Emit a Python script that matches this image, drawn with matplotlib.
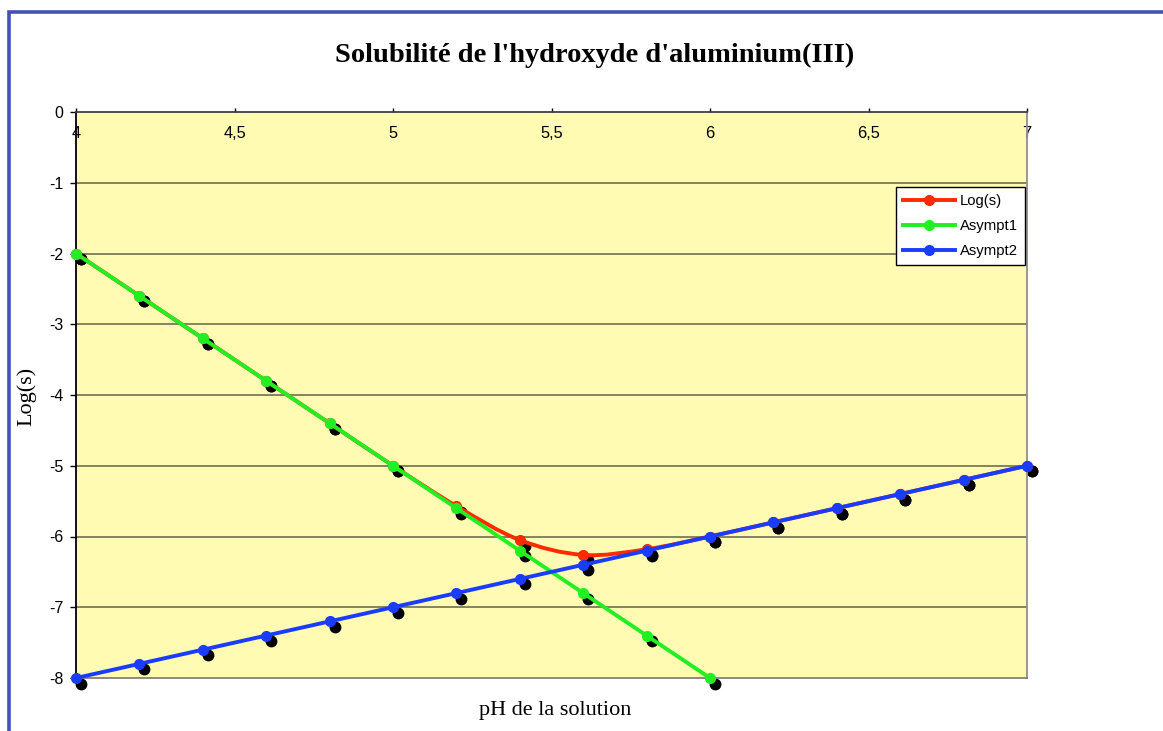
import matplotlib
matplotlib.use("Agg")
import matplotlib.pyplot as plt
import matplotlib.transforms as mtransforms
from matplotlib.path import Path
from matplotlib.patches import PathPatch, Rectangle
import numpy as np

# ---- data ----
ph_log = [4.0, 4.2, 4.4, 4.6, 4.8, 5.0, 5.2, 5.4, 5.6, 5.8, 6.0, 6.2, 6.4, 6.6, 6.8, 7.0]
log_s = [-2.0, -2.6, -3.2, -3.8, -4.4, -5.0, -5.57, -6.05, -6.26, -6.18, -6.0, -5.8, -5.6, -5.4, -5.2, -5.0]

ph_a1 = [4.0, 4.2, 4.4, 4.6, 4.8, 5.0, 5.2, 5.4, 5.6, 5.8, 6.0]
asympt1 = [-2.0, -2.6, -3.2, -3.8, -4.4, -5.0, -5.6, -6.2, -6.8, -7.4, -8.0]

ph_a2 = [4.0, 4.2, 4.4, 4.6, 4.8, 5.0, 5.2, 5.4, 5.6, 5.8, 6.0, 6.2, 6.4, 6.6, 6.8, 7.0]
asympt2 = [-8.0, -7.8, -7.6, -7.4, -7.2, -7.0, -6.8, -6.6, -6.4, -6.2, -6.0, -5.8, -5.6, -5.4, -5.2, -5.0]

x_ticks = [4, 4.5, 5, 5.5, 6, 6.5, 7]
x_ticklabels = ["4", "4,5", "5", "5,5", "6", "6,5", "7"]
y_ticks = [0, -1, -2, -3, -4, -5, -6, -7, -8]

title = "Solubilité de l'hydroxyde d'aluminium(III)"
xlabel = "pH de la solution"
ylabel = "Log(s)"

RED = "#FF2A00"
GREEN = "#22EE22"
BLUE = "#1A3CFF"
BG = "#FFFBB3"

fig = plt.figure(figsize=(11.63, 7.31), dpi=100)
fig.patch.set_facecolor("white")

# outer blue frame (cropped at right / bottom)
fig.add_artist(Rectangle((8.5 / 1163, -0.05), 1.2, 1 - 11.5 / 731 + 0.05,
                         transform=fig.transFigure, fill=False,
                         edgecolor="#4452B8", linewidth=2.6))

ax = fig.add_axes([76 / 1163, 53 / 731, (1027 - 76) / 1163, (678 - 112) / 731])
ax.set_facecolor(BG)
ax.set_xlim(4, 7)
ax.set_ylim(-8, 0)

ax.spines["left"].set_color("black")
ax.spines["top"].set_color("#404040")
ax.spines["right"].set_color("#909090")
ax.spines["bottom"].set_color("#808080")
for s in ax.spines.values():
    s.set_linewidth(1.3)

for yv in y_ticks[1:-1]:
    ax.axhline(yv, color="#7A7A5A", linewidth=1.3, zorder=1)

ax.set_yticks(y_ticks)
ax.set_yticklabels([str(v) for v in y_ticks])
ax.set_xticks(x_ticks)
ax.set_xticklabels(x_ticklabels)
ax.xaxis.set_ticks_position("top")
ax.tick_params(axis="x", direction="out", length=3, width=1, pad=-24,
               labelsize=11.8, colors="black")
ax.tick_params(axis="y", direction="out", length=4, width=1, pad=5,
               labelsize=11.5)
for lbl in ax.get_xticklabels() + ax.get_yticklabels():
    lbl.set_fontfamily("Liberation Sans")
    lbl.set_zorder(6)

# shadows
shadow_tr = ax.transData + mtransforms.ScaledTranslation(5 / 100, -5.5 / 100, fig.dpi_scale_trans)
for xs, ys in [(ph_log, log_s), (ph_a1, asympt1), (ph_a2, asympt2)]:
    ax.plot(xs, ys, linestyle="none", marker="o", markersize=7.5, color="black",
            transform=shadow_tr, zorder=2, clip_on=False)

# smoothed red line (Catmull-Rom style Bezier through the data points)
def smooth_path(xs, ys, t=1 / 6):
    pts = np.column_stack([xs, ys])
    verts = [pts[0]]
    codes = [Path.MOVETO]
    n = len(pts)
    for i in range(n - 1):
        p0 = pts[i - 1] if i > 0 else pts[i]
        p1 = pts[i]
        p2 = pts[i + 1]
        p3 = pts[i + 2] if i + 2 < n else pts[i + 1]
        c1 = p1 + (p2 - p0) * t
        c2 = p2 - (p3 - p1) * t
        verts += [c1, c2, p2]
        codes += [Path.CURVE4] * 3
    return Path(verts, codes)

ax.add_patch(PathPatch(smooth_path(ph_log, log_s), facecolor="none", edgecolor=RED,
                       linewidth=2.8, zorder=3, capstyle="round", clip_on=False))
ax.plot(ph_log, log_s, linestyle="none", marker="o", markersize=7, color=RED,
        zorder=3, clip_on=False)
ax.plot([], [], color=RED, linewidth=2.8, marker="o", markersize=7, label="Log(s)")

ax.plot(ph_a1, asympt1, color=GREEN, linewidth=2.8, marker="o", markersize=7,
        zorder=4, clip_on=False, label="Asympt1")
ax.plot(ph_a2, asympt2, color=BLUE, linewidth=2.8, marker="o", markersize=7,
        zorder=5, clip_on=False, label="Asympt2")

leg = ax.legend(loc="upper left", bbox_to_anchor=((896 - 76) / 951, 1 - (187 - 112) / 566),
                prop={"family": "Liberation Sans", "size": 10.7},
                frameon=True, fancybox=False, framealpha=1,
                edgecolor="black", handlelength=3.5, borderpad=0.5,
                labelspacing=0.72, handletextpad=0.3, borderaxespad=0)
leg.get_frame().set_linewidth(1.0)
leg.set_zorder(7)

fig.text(595 / 1163, 1 - 55 / 731, title, ha="center", va="center",
         fontsize=20.5, fontweight="bold", fontfamily="Liberation Serif")
fig.text(555 / 1163, 1 - 711 / 731, xlabel, ha="center", va="center",
         fontsize=16, fontfamily="Liberation Serif")
fig.text(27 / 1163, 1 - 396 / 731, ylabel, ha="center", va="center",
         rotation=90, fontsize=16, fontfamily="Liberation Serif")

fig.savefig("out.png", dpi=100)
